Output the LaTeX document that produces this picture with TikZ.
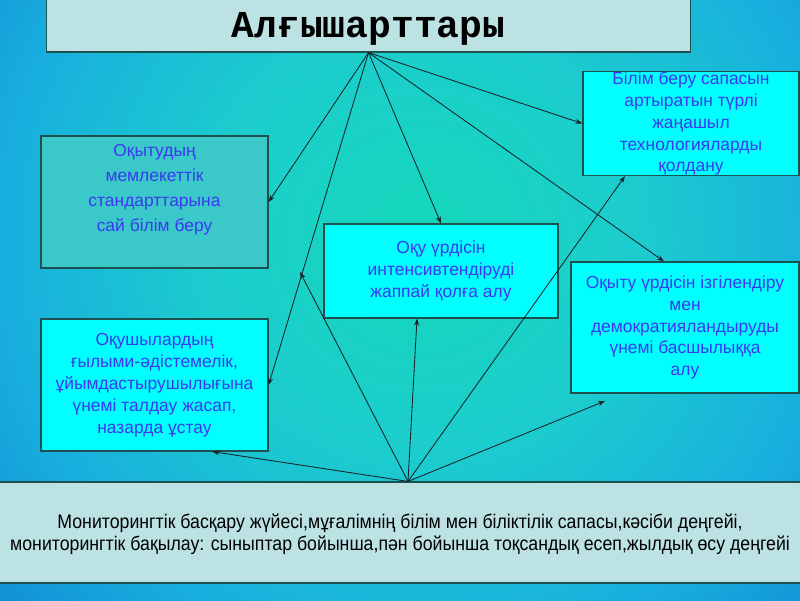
\documentclass[tikz,border=0pt]{standalone}
\usepackage{fontspec}
\setmainfont{Liberation Sans}
\newfontfamily\titlefont{Liberation Mono}
\newfontfamily\narrowfont[FakeStretch=0.9]{Liberation Sans}
\usetikzlibrary{arrows.meta}

\definecolor{glowin}{RGB}{20,215,185}
\definecolor{glowa}{RGB}{28,205,205}
\definecolor{glowb}{RGB}{24,175,222}
\definecolor{glowmid}{RGB}{14,130,210}
\definecolor{glowout}{RGB}{8,95,190}
\definecolor{glowedge}{RGB}{5,75,165}
\definecolor{titlefill}{RGB}{189,226,228}
\definecolor{tealfill}{RGB}{58,200,200}
\definecolor{boxcyan}{RGB}{0,255,255}
\definecolor{boxline}{RGB}{30,80,80}
\definecolor{boxtext}{RGB}{58,58,240}
\definecolor{linkc}{RGB}{20,35,40}

\pgfdeclareradialshading{glow}{\pgfpoint{0bp}{0bp}}{%
  color(0bp)=(glowin); color(10bp)=(glowa); color(20bp)=(glowb);
  color(30bp)=(glowmid); color(40bp)=(glowout); color(50bp)=(glowedge)}

\begin{document}
\begin{tikzpicture}[x=0.025cm, y=-0.025cm, >={Stealth[length=5pt, width=3.6pt]}, line width=0.7pt,
  box/.style={draw=boxline, line width=0.8pt, text=boxtext, align=center, inner sep=0pt,
    font=\fontsize{12.4}{15.6}\selectfont},
  link/.style={->, draw=linkc, line width=0.6pt}]
  \useasboundingbox (0,0) rectangle (800,600);
  % fondo
  \begin{scope}
    \clip (0,0) rectangle (800,600);
    \shade[shading=glow] (-100,-280) rectangle (940,760);
  \end{scope}
  % titulo
  \node[box, fill=titlefill, text=black, minimum width=16.075cm, minimum height=1.35cm,
    text height=21pt, text depth=2.6pt,
    font=\titlefont\bfseries\fontsize{27}{30}\selectfont] (title) at (368.5,25) {Алғышарттары};
  % cajas
  \node[box, fill=tealfill, minimum width=5.675cm, minimum height=3.3cm, text depth=0.7cm,
    font=\fontsize{12.4}{17.8}\selectfont] (stand) at (154.5,202)
    {Оқытудың\\мемлекеттік\\стандарттарына\\сай білім беру};
  \node[box, fill=boxcyan, minimum width=5.675cm, minimum height=3.3cm] (analysis) at (154.5,385)
    {Оқушылардың\\ғылыми-әдістемелік,\\ұйымдастырушылығына\\үнемі талдау жасап,\\назарда ұстау};
  \node[box, fill=boxcyan, minimum width=5.85cm, minimum height=2.35cm] (intens) at (441,271)
    {Оқу үрдісін\\интенсивтендіруді\\жаппай қолға алу};
  \node[box, fill=boxcyan, minimum width=5.4cm, minimum height=2.525cm] (tech) at (691,123.5)
    {Білім беру сапасын\\артыратын түрлі\\жаңашыл\\технологияларды\\қолдану};
  \node[box, fill=boxcyan, minimum width=5.7cm, minimum height=3.275cm] (human) at (685,327.5)
    {Оқыту үрдісін ізгілендіру\\мен\\демократияландыруды\\үнемі басшылыққа\\алу};
  \node[box, fill=titlefill, text=black, minimum width=20.15cm, minimum height=2.525cm,
    text depth=0pt, font=\narrowfont\fontsize{14}{15.4}\selectfont] (monitor) at (400,532.5)
    {Мониторингтік басқару жүйесі,мұғалімнің білім мен біліктілік сапасы,кәсіби деңгейі,\\
     мониторингтік бақылау: сыныптар бойынша,пән бойынша тоқсандық есеп,жылдық өсу деңгейі};
  % flechas desde el titulo
  \draw[link] (title.south) -- (stand.east);
  \draw[link] (title.south) -- (analysis.east);
  \draw[link] (title.south) -- (intens.north);
  \draw[link] (title.south) -- (tech.west);
  \draw[link] (title.south) -- ([xshift=-0.525cm]human.north);
  % flechas desde abajo
  \coordinate (mon) at ([xshift=0.2cm]monitor.north);
  \coordinate (freeA) at (300,272);
  \coordinate (freeB) at (605,401);
  \draw[link] (mon) -- ([xshift=1.44cm]analysis.south);
  \draw[link] (mon) -- (freeA);
  \draw[link] (mon) -- ([xshift=-0.6cm]intens.south);
  \draw[link] (mon) -- ([xshift=-1.65cm]tech.south);
  \draw[link] (mon) -- (freeB);
\end{tikzpicture}
\end{document}
